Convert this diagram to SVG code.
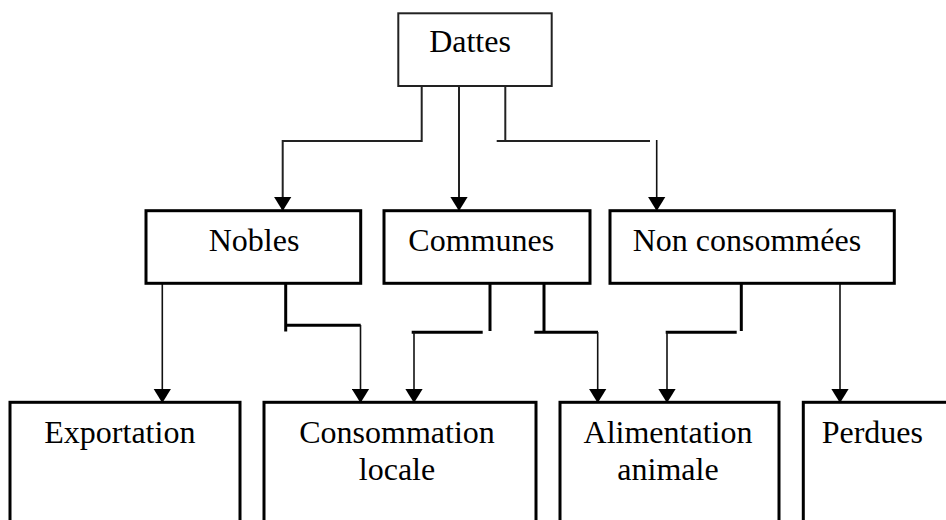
<svg xmlns="http://www.w3.org/2000/svg" width="946" height="520" viewBox="0 0 946 520">
<style>
  .box{fill:#fff;stroke:#000;stroke-width:3}
  .box1{fill:#fff;stroke:#222;stroke-width:2}
  text{font-family:"Liberation Serif","Times New Roman",serif;font-size:32px;fill:#000}
  .c{text-anchor:middle}
  .th{stroke:#000;stroke-width:3;fill:none}
  .tn{stroke:#111;stroke-width:1.6;fill:none}
  .md{stroke:#222;stroke-width:2;fill:none}
  .arr{fill:#000}
</style>
<defs>
  <marker id="ah" markerUnits="userSpaceOnUse" markerWidth="18" markerHeight="14" refX="8" refY="13" orient="0" viewBox="0 0 16 13">
    <path d="M0,0 L16,0 L8,13 Z" class="arr"/>
  </marker>
</defs>
<rect width="946" height="520" fill="#fff"/>
<g id="connectors">
  <polyline class="md" points="421.7,86 421.7,141 282.7,141 282.7,211" marker-end="url(#ah)"/>
  <line class="md" x1="459" y1="86" x2="459" y2="211" marker-end="url(#ah)"/>
  <line class="md" x1="505.3" y1="86" x2="505.3" y2="141"/>
  <line class="md" x1="496.7" y1="141" x2="650" y2="141"/>
  <line class="tn" x1="656.7" y1="140" x2="656.7" y2="211" marker-end="url(#ah)"/>
  <line class="tn" x1="162.3" y1="283" x2="162.3" y2="403" marker-end="url(#ah)"/>
  <line class="th" x1="285.7" y1="283" x2="285.7" y2="331.5"/>
  <line class="th" x1="285.7" y1="325.3" x2="360.7" y2="325.3"/>
  <line class="tn" x1="360.5" y1="325" x2="360.5" y2="403" marker-end="url(#ah)"/>
  <line class="th" x1="490" y1="283" x2="490" y2="331"/>
  <line class="th" x1="411.7" y1="332.3" x2="482.7" y2="332.3"/>
  <line class="tn" x1="414" y1="332" x2="414" y2="403" marker-end="url(#ah)"/>
  <line class="th" x1="544" y1="283" x2="544" y2="332"/>
  <line class="th" x1="534.3" y1="332.3" x2="598" y2="332.3"/>
  <line class="tn" x1="597.7" y1="332" x2="597.7" y2="403" marker-end="url(#ah)"/>
  <line class="th" x1="741.3" y1="283" x2="741.3" y2="331"/>
  <line class="th" x1="665.7" y1="332.3" x2="736.7" y2="332.3"/>
  <line class="tn" x1="667" y1="332" x2="667" y2="403" marker-end="url(#ah)"/>
  <line class="tn" x1="840" y1="283" x2="840" y2="403" marker-end="url(#ah)"/>
</g>
<g id="dattes">
  <rect class="box1" x="398.3" y="13.3" width="153.4" height="72.7"/>
  <text class="c" x="470" y="52">Dattes</text>
</g>
<g id="nobles">
  <rect class="box" x="146" y="210.7" width="214.7" height="72.6"/>
  <text class="c" x="254" y="251">Nobles</text>
</g>
<g id="communes">
  <rect class="box" x="384" y="210.7" width="206" height="72.6"/>
  <text x="408.3" y="251">Communes</text>
</g>
<g id="non-consommees">
  <rect class="box" x="610" y="210.7" width="284.3" height="72.6"/>
  <text x="632.7" y="251">Non consommées</text>
</g>
<g id="exportation">
  <rect class="box" x="10" y="402.3" width="230" height="140"/>
  <text x="44.3" y="443">Exportation</text>
</g>
<g id="consommation-locale">
  <rect class="box" x="264" y="402.3" width="272" height="140"/>
  <text class="c" x="397" y="443">Consommation</text>
  <text class="c" x="397" y="480">locale</text>
</g>
<g id="alimentation-animale">
  <rect class="box" x="560" y="402.3" width="219" height="140"/>
  <text class="c" x="668" y="443">Alimentation</text>
  <text class="c" x="668" y="480">animale</text>
</g>
<g id="perdues">
  <rect class="box" x="803.3" y="402.3" width="170" height="140"/>
  <text x="821.7" y="443">Perdues</text>
</g>
</svg>
